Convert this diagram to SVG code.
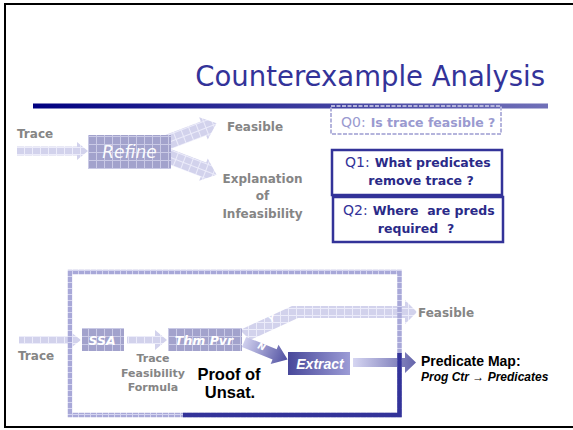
<svg xmlns="http://www.w3.org/2000/svg" width="573" height="430" viewBox="0 0 573 430">
<defs>
<style>
.g{font-family:"DejaVu Sans",Verdana,sans-serif;font-weight:bold;fill:#858585}
.bx{font-family:"DejaVu Sans",Verdana,sans-serif;font-style:oblique;fill:#fff}
.q{font-family:"DejaVu Sans",Verdana,sans-serif}
.qb{font-weight:bold}
.blk{font-family:"Liberation Sans",Arial,sans-serif;font-weight:bold;fill:#000}
</style>
<pattern id="gridBox" width="8" height="8" patternUnits="userSpaceOnUse"><rect width="8" height="8" fill="#a2a2cc"/><path d="M0 0.5H8M0.5 0V8" stroke="#cacae6" stroke-width="1"/></pattern>
<pattern id="gridArrow" width="8" height="7" patternUnits="userSpaceOnUse"><rect width="8" height="7" fill="#d2d2ec"/><path d="M0 0.5H8M0.5 0V7" stroke="#ececfa" stroke-width="1"/></pattern>
<pattern id="gridFrame" width="6" height="6" patternUnits="userSpaceOnUse"><rect width="6" height="6" fill="#a8a8d8"/><path d="M0 0.5H6M0.5 0V6" stroke="#d4d4f0" stroke-width="1"/></pattern>
<linearGradient id="rule" x1="0" x2="1"><stop offset="0" stop-color="#000080"/><stop offset="1" stop-color="#7070b8"/></linearGradient>
<linearGradient id="extractFill" x1="0" x2="1"><stop offset="0" stop-color="#48489a"/><stop offset="1" stop-color="#9c9cd6"/></linearGradient>
<linearGradient id="extractArrow" gradientUnits="userSpaceOnUse" x1="353" y1="0" x2="416" y2="0"><stop offset="0" stop-color="#d6d6f2"/><stop offset="1" stop-color="#6464aa"/></linearGradient>
<linearGradient id="nArrow" gradientUnits="userSpaceOnUse" x1="0" y1="0" x2="44" y2="0"><stop offset="0" stop-color="#d0d0ee"/><stop offset="1" stop-color="#5858a6"/></linearGradient>
</defs>
<rect width="573" height="430" fill="#fff"/>
<rect x="5" y="4" width="575" height="423" fill="none" stroke="#000" stroke-width="2"/>

<g id="title">
<text x="545" y="86" text-anchor="end" font-family="DejaVu Sans, Verdana, sans-serif" font-size="27.5" fill="#333399">Counterexample Analysis</text>
<rect x="33" y="103.5" width="515" height="5" fill="url(#rule)"/>
</g>

<g id="connectors">
<path d="M17,146.5 H77 V142 L88,151 L77,160 V155.5 H17 Z" fill="url(#gridArrow)"/>
<path transform="translate(168,142) rotate(-21)" d="M0,-7.5 H38 V-12 L52,0 L38,12 V7.5 H0 Z" fill="url(#gridArrow)"/>
<path transform="translate(168,156) rotate(21)" d="M0,-7.5 H38 V-12 L52,0 L38,12 V7.5 H0 Z" fill="url(#gridArrow)"/>
<path d="M19,336 H68 V330 L81,340 L68,350 V344 H19 Z" fill="url(#gridArrow)"/>
<path d="M127,336 H155 V330 L167,340 L155,350 V344 H127 Z" fill="url(#gridArrow)"/>
<path d="M240,330 L292,306 H405 V300 L417,312 L405,324 V318 H298 L250,340 Z" fill="url(#gridArrow)"/>
<g transform="translate(244,342) rotate(22)">
<path d="M0,-5.5 H33 V-10.5 L47,0 L33,10.5 V5.5 H0 Z" fill="url(#nArrow)"/>
</g>
<path d="M353,358 H405 V352 L416,362.5 L405,373 V367 H353 Z" fill="url(#extractArrow)"/>
<text transform="translate(270,323) rotate(-25)" class="bx" font-weight="bold" font-size="9">Y</text>
<text transform="translate(257,348) rotate(22)" class="bx" font-weight="bold" font-size="9">N</text>
</g>

<g id="frame">
<rect x="70" y="272" width="329.5" height="143" fill="none" stroke="url(#gridFrame)" stroke-width="4.5"/>
<path d="M183,415 H399.5 V353" fill="none" stroke="#333399" stroke-width="4.5"/>
</g>

<g id="refine">
<rect x="88" y="135" width="83" height="34" fill="url(#gridBox)"/>
<text x="129.5" y="158" text-anchor="middle" class="bx" font-size="17" opacity="0.95">Refine</text>
</g>

<g id="top-labels">
<text x="17" y="138" class="g" font-size="12">Trace</text>
<text x="227" y="131" class="g" font-size="12">Feasible</text>
<text x="262.5" y="183" class="g" font-size="12" text-anchor="middle">Explanation</text>
<text x="262.5" y="200" class="g" font-size="12" text-anchor="middle">of</text>
<text x="262.5" y="218" class="g" font-size="12" text-anchor="middle">Infeasibility</text>
</g>

<g id="q0">
<rect x="331" y="106" width="170" height="28" fill="none" stroke="#b4b4dc" stroke-width="2" stroke-dasharray="4 1.5"/>
<text x="341" y="127" class="q" fill="#9a9ad0"><tspan font-size="14">Q0:</tspan><tspan class="qb" font-size="12.5" dx="5">Is trace feasible ?</tspan></text>
</g>

<g id="q1">
<rect x="332" y="150" width="170" height="45" fill="#fff" stroke="#333399" stroke-width="2.5"/>
<text x="345" y="167" class="q" fill="#333399"><tspan font-size="14">Q1:</tspan><tspan class="qb" font-size="12.5" dx="5" fill="#2a2a88">What predicates</tspan></text>
<text x="421" y="185" class="q qb" font-size="12.5" fill="#2a2a88" text-anchor="middle">remove trace ?</text>
</g>

<g id="q2">
<rect x="333" y="197" width="170" height="45" fill="#fff" stroke="#333399" stroke-width="2.5"/>
<text x="343" y="215" class="q" fill="#333399"><tspan font-size="14">Q2:</tspan><tspan class="qb" font-size="12.5" dx="5" fill="#2a2a88" xml:space="preserve">Where  are preds</tspan></text>
<text x="416" y="233" class="q qb" font-size="12.5" fill="#2a2a88" text-anchor="middle" xml:space="preserve">required  ?</text>
</g>

<g id="ssa">
<rect x="82" y="328" width="42" height="23" fill="url(#gridBox)"/>
<text x="102" y="344.5" text-anchor="middle" class="bx" font-weight="bold" font-size="12.5">SSA</text>
</g>

<g id="thmpvr">
<rect x="168" y="328" width="74" height="23" fill="url(#gridBox)"/>
<text x="204" y="344.5" text-anchor="middle" class="bx" font-weight="bold" font-size="12.5">Thm Pvr</text>
</g>

<g id="extract">
<rect x="288" y="352" width="62" height="23" fill="url(#extractFill)"/>
<text x="320" y="369" text-anchor="middle" font-family="Liberation Sans, Arial, sans-serif" font-weight="bold" font-style="italic" font-size="14" fill="#fff">Extract</text>
</g>

<g id="bottom-labels">
<text x="18" y="360" class="g" font-size="12">Trace</text>
<text x="153" y="362" class="g" font-size="11" text-anchor="middle">Trace</text>
<text x="153" y="377" class="g" font-size="11" text-anchor="middle">Feasibility</text>
<text x="153" y="391" class="g" font-size="11" text-anchor="middle">Formula</text>
<text x="229" y="380" class="blk" font-size="16.5" text-anchor="middle">Proof of</text>
<text x="230" y="398" class="blk" font-size="16.5" text-anchor="middle">Unsat.</text>
<text x="418" y="317" class="g" font-size="12">Feasible</text>
<text x="421" y="366" class="blk" font-size="14">Predicate Map:</text>
<text x="421" y="381" class="blk" font-size="12" font-style="italic">Prog Ctr → Predicates</text>
</g>
</svg>
